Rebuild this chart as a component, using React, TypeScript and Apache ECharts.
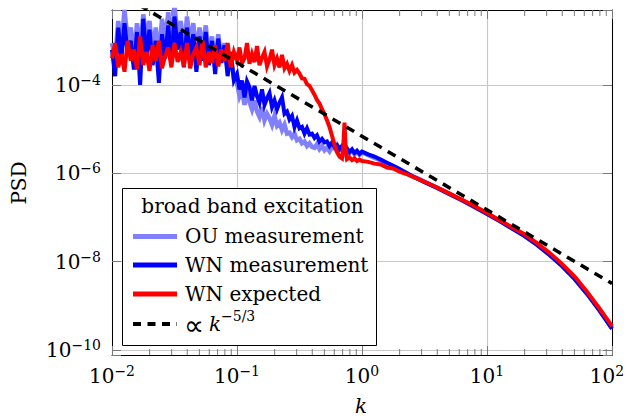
import React, { useEffect, useRef } from 'react';
import * as echarts from 'echarts';

// log10(k) sample positions shared by the three measured/expected spectra
const logK = [
  -2.000, -1.975, -1.950, -1.925, -1.900, -1.875, -1.850, -1.825, -1.800, -1.775,
  -1.750, -1.725, -1.700, -1.675, -1.650, -1.625, -1.600, -1.575, -1.550, -1.525,
  -1.500, -1.475, -1.450, -1.425, -1.400, -1.375, -1.350, -1.325, -1.300, -1.275,
  -1.250, -1.225, -1.200, -1.175, -1.150, -1.125, -1.100, -1.075, -1.050, -1.025,
  -1.00, -0.98, -0.96, -0.94, -0.92, -0.90, -0.88, -0.86, -0.84, -0.82,
  -0.80, -0.78, -0.76, -0.74, -0.72, -0.70, -0.68, -0.66, -0.64, -0.62,
  -0.60, -0.58, -0.56, -0.54, -0.52, -0.50, -0.48, -0.46, -0.44, -0.42,
  -0.40, -0.38, -0.36, -0.34, -0.32, -0.30, -0.28, -0.26, -0.24, -0.22,
  -0.20, -0.18, -0.16, -0.15, -0.14, -0.13, -0.12, -0.10, -0.08, -0.06,
  -0.04, -0.02, 0.00,
  0.05, 0.10, 0.15, 0.20, 0.25, 0.30, 0.35, 0.40, 0.45, 0.50,
  0.60, 0.70, 0.80, 0.90, 1.00, 1.10, 1.20, 1.30, 1.40, 1.50,
  1.60, 1.70, 1.80, 1.90, 2.00,
];

// log10(PSD), OU measurement
const logPsdOU = [
  -3.05, -3.45, -2.55, -3.10, -2.30, -3.00, -2.70, -3.35, -2.60, -3.25,
  -2.40, -2.95, -2.55, -3.30, -2.70, -3.40, -2.50, -3.05, -2.35, -3.15,
  -2.20, -2.95, -2.55, -3.25, -2.45, -3.10, -2.60, -3.30, -2.70, -3.20,
  -2.65, -3.35, -2.90, -3.50, -2.85, -3.45, -3.05, -3.65, -3.35, -3.85,
  -3.95, -4.25, -4.10, -4.45, -4.20, -4.38, -4.55, -4.35, -4.60, -4.72,
  -4.50, -4.80, -4.65, -4.75, -4.90, -4.70, -4.92, -4.85, -5.02, -4.90,
  -5.10, -5.08, -5.18, -5.10, -5.25, -5.22, -5.32, -5.28, -5.38, -5.32,
  -5.40, -5.42, -5.34, -5.45, -5.38, -5.48, -5.42, -5.50, -5.40, -5.44,
  -5.36, -5.47, -5.40, -5.50, -5.42, -5.52, -5.44, -5.54, -5.47, -5.57,
  -5.50, -5.58, -5.52,
  -5.59, -5.65, -5.71, -5.78, -5.84, -5.91, -5.99, -6.06, -6.12, -6.19,
  -6.32, -6.46, -6.61, -6.76, -6.91, -7.07, -7.24, -7.41, -7.61, -7.84,
  -8.09, -8.38, -8.72, -9.10, -9.50,
];

// log10(PSD), WN measurement
const logPsdWNMeas = [
  -3.20, -3.80, -2.70, -3.40, -2.60, -3.30, -3.00, -3.65, -2.80, -4.00,
  -2.50, -3.35, -2.75, -3.55, -3.00, -3.95, -2.85, -3.40, -2.65, -3.50,
  -2.45, -3.20, -2.80, -3.60, -2.70, -3.35, -2.85, -3.70, -2.90, -3.45,
  -2.80, -3.55, -3.00, -3.75, -2.95, -3.50, -3.10, -3.80, -3.25, -3.90,
  -3.75, -4.10, -3.90, -4.28, -3.92, -4.05, -4.35, -4.02, -4.25, -4.40,
  -4.10, -4.45, -4.30, -4.18, -4.50, -4.35, -4.55, -4.40, -4.28, -4.65,
  -4.60, -4.78, -4.70, -4.95, -4.80, -4.98, -4.95, -5.10, -4.98, -5.12,
  -5.10, -5.20, -5.14, -5.28, -5.22, -5.30, -5.28, -5.38, -5.30, -5.40,
  -5.36, -5.45, -5.38, -5.46, -5.42, -5.50, -5.44, -5.52, -5.46, -5.54,
  -5.49, -5.56, -5.51,
  -5.57, -5.62, -5.69, -5.76, -5.83, -5.90, -5.98, -6.06, -6.13, -6.20,
  -6.33, -6.47, -6.61, -6.76, -6.92, -7.08, -7.25, -7.42, -7.62, -7.85,
  -8.10, -8.39, -8.73, -9.11, -9.52,
];

// log10(PSD), WN expected
const logPsdWNExp = [
  -3.40, -3.05, -3.60, -3.30, -3.70, -3.00, -3.45, -3.20, -3.65, -2.90,
  -3.55, -3.25, -3.68, -3.10, -3.45, -3.00, -3.62, -3.35, -3.15, -3.60,
  -3.05, -3.48, -3.25, -3.58, -3.05, -3.62, -3.30, -3.15, -3.55, -3.00,
  -3.60, -3.25, -3.50, -3.10, -3.58, -3.20, -3.45, -3.05, -3.60, -3.25,
  -3.45, -3.15, -3.50, -3.40, -3.05, -3.52, -3.30, -3.48, -3.12, -3.55,
  -3.38, -3.25, -3.58, -3.42, -3.20, -3.55, -3.40, -3.60, -3.32, -3.62,
  -3.52, -3.68, -3.55, -3.72, -3.66, -3.74, -3.85, -3.86, -3.98, -4.02,
  -4.12, -4.22, -4.34, -4.42, -4.55, -4.66, -4.80, -4.95, -5.15, -5.35,
  -5.52, -5.62, -5.66, -5.40, -4.85, -5.45, -5.68, -5.64, -5.70, -5.66,
  -5.72, -5.69, -5.72,
  -5.74, -5.78, -5.80, -5.87, -5.89, -5.96, -6.01, -6.07, -6.13, -6.19,
  -6.32, -6.46, -6.60, -6.74, -6.90, -7.06, -7.22, -7.38, -7.58, -7.80,
  -8.05, -8.33, -8.68, -9.06, -9.46,
];

// reference slope line  ∝ k^(-5/3)
const slopeK = [0.01, 100];
const slopePsd = [1.49e-2, 3.21e-9];

// minor tick positions on the k axis
const minorTickK = [
  0.02, 0.03, 0.04, 0.05, 0.06, 0.07, 0.08, 0.09,
  0.2, 0.3, 0.4, 0.5, 0.6, 0.7, 0.8, 0.9,
  2, 3, 4, 5, 6, 7, 8, 9,
  20, 30, 40, 50, 60, 70, 80, 90,
];

const X_MIN = 0.01;
const X_MAX = 100;
const Y_MIN = 7.7e-11;
const Y_MAX = 4.99e-3;

const FONT = '"DejaVu Serif", serif';

const toPairs = (ys: number[]) => logK.map((lk, i) => [Math.pow(10, lk), Math.pow(10, ys[i])]);

const labelRich = {
  b: { fontFamily: FONT, fontSize: 20, color: '#000', lineHeight: 24 },
  s: { fontFamily: FONT, fontSize: 14, color: '#000', lineHeight: 12, verticalAlign: 'top' },
  p: { width: 10 },
};

const powFormatter = (v: number) => {
  const e = Math.log10(v);
  const r = Math.round(e);
  if (Math.abs(e - r) > 0.01) return '';
  return `{b|10}{s|${r < 0 ? '\u2212' : ''}${Math.abs(r)}}`;
};

const xFormatter = (v: number) => {
  const s = powFormatter(v);
  if (s && Math.abs(v - X_MAX) < 1e-6 * X_MAX) return s + '{p|}';
  return s;
};

export default function App() {
  const ref = useRef<HTMLDivElement>(null);

  useEffect(() => {
    if (!ref.current) return;
    const chart = echarts.init(ref.current, null, { renderer: 'svg' });

    const tickStyle = { color: '#7a7a7a', width: 1 };
    const axisLineStyle = { color: '#000', width: 1 };

    const option: any = {
      animation: false,
      textStyle: { fontFamily: FONT },
      grid: { left: 112, top: 10, right: 15, bottom: 64, containLabel: false, outerBoundsMode: 'none' },
      xAxis: [
        {
          type: 'log', logBase: 10, min: X_MIN, max: X_MAX, position: 'bottom',
          axisLine: { show: true, onZero: false, lineStyle: axisLineStyle },
          axisTick: { show: true, inside: true, length: 9, lineStyle: tickStyle },
          axisLabel: { show: true, margin: 9, formatter: xFormatter, rich: labelRich },
          splitLine: { show: true, lineStyle: { color: '#c8c8c8', width: 1.2 } },
          minorTick: { show: false }, minorSplitLine: { show: false },
        },
        {
          type: 'log', logBase: 10, min: X_MIN, max: X_MAX, position: 'top',
          axisLine: { show: true, onZero: false, lineStyle: axisLineStyle },
          axisTick: { show: true, inside: true, length: 9, lineStyle: tickStyle },
          axisLabel: { show: false },
          splitLine: { show: false },
        },
      ],
      yAxis: [
        {
          type: 'log', logBase: 100, min: Y_MIN, max: Y_MAX, position: 'left',
          axisLine: { show: true, onZero: false, lineStyle: axisLineStyle },
          axisTick: { show: true, inside: true, length: 9, lineStyle: tickStyle },
          axisLabel: { show: true, margin: 11, formatter: powFormatter, rich: labelRich },
          splitLine: { show: true, lineStyle: { color: '#c8c8c8', width: 1.2 } },
        },
        {
          type: 'log', logBase: 100, min: Y_MIN, max: Y_MAX, position: 'right',
          axisLine: { show: true, onZero: false, lineStyle: axisLineStyle },
          axisTick: { show: true, inside: true, length: 9, lineStyle: tickStyle },
          axisLabel: { show: false },
          splitLine: { show: false },
        },
      ],
      series: [
        {
          type: 'custom', name: 'minor ticks', silent: true, z: 1, clip: false,
          data: minorTickK.map((k) => [k, Y_MIN]),
          encode: { x: 0, y: 1 },
          renderItem: (_params: any, api: any) => {
            const k = api.value(0);
            const b = api.coord([k, Y_MIN]);
            const t = api.coord([k, Y_MAX]);
            return {
              type: 'group',
              children: [
                { type: 'line', shape: { x1: b[0], y1: b[1], x2: b[0], y2: b[1] - 6 }, style: { stroke: '#7a7a7a', lineWidth: 1 } },
                { type: 'line', shape: { x1: t[0], y1: t[1], x2: t[0], y2: t[1] + 6 }, style: { stroke: '#7a7a7a', lineWidth: 1 } },
              ],
            };
          },
        },
        {
          type: 'line', name: 'OU measurement', data: toPairs(logPsdOU), symbol: 'none', z: 2,
          lineStyle: { color: '#8080ff', width: 4.5, join: 'miter' },
        },
        {
          type: 'line', name: 'WN measurement', data: toPairs(logPsdWNMeas), symbol: 'none', z: 3,
          lineStyle: { color: '#0000ff', width: 4, join: 'miter' },
        },
        {
          type: 'line', name: 'WN expected', data: toPairs(logPsdWNExp), symbol: 'none', z: 4,
          lineStyle: { color: '#ff0000', width: 4, join: 'miter' },
        },
        {
          type: 'line', name: '\u221d k^(-5/3)', data: slopeK.map((k, i) => [k, slopePsd[i]]), symbol: 'none', z: 5,
          lineStyle: { color: '#000', width: 3.5, type: [9, 7], cap: 'butt' },
        },
      ],
      graphic: {
        elements: [
          { type: 'text', x: 18.5, y: 183, rotation: Math.PI / 2, z: 100,
            style: { text: 'PSD', fontFamily: FONT, fontSize: 20, fill: '#000', align: 'center', verticalAlign: 'middle' } },
          { type: 'text', x: 361, y: 406, z: 100,
            style: { text: 'k', fontFamily: FONT, fontStyle: 'italic', fontSize: 20, fill: '#000', align: 'center', verticalAlign: 'middle' } },
          { type: 'rect', z: 100, shape: { x: 122.5, y: 188.5, width: 254, height: 157 },
            style: { fill: '#fff', stroke: '#000', lineWidth: 1 } },
          { type: 'text', x: 252.5, y: 206, z: 101,
            style: { text: 'broad band excitation', fontFamily: FONT, fontSize: 20, fill: '#000', align: 'center', verticalAlign: 'middle' } },
          { type: 'line', z: 101, shape: { x1: 133, y1: 236.5, x2: 177, y2: 236.5 }, style: { stroke: '#8080ff', lineWidth: 5 } },
          { type: 'text', x: 185, y: 236, z: 101,
            style: { text: 'OU measurement', fontFamily: FONT, fontSize: 20, fill: '#000', align: 'left', verticalAlign: 'middle' } },
          { type: 'line', z: 101, shape: { x1: 133, y1: 265, x2: 177, y2: 265 }, style: { stroke: '#0000ff', lineWidth: 5 } },
          { type: 'text', x: 185, y: 265, z: 101,
            style: { text: 'WN measurement', fontFamily: FONT, fontSize: 20, fill: '#000', align: 'left', verticalAlign: 'middle' } },
          { type: 'line', z: 101, shape: { x1: 133, y1: 294, x2: 177, y2: 294 }, style: { stroke: '#ff0000', lineWidth: 5 } },
          { type: 'text', x: 185, y: 294, z: 101,
            style: { text: 'WN expected', fontFamily: FONT, fontSize: 20, fill: '#000', align: 'left', verticalAlign: 'middle' } },
          { type: 'line', z: 101, shape: { x1: 133, y1: 324, x2: 177, y2: 324 }, style: { stroke: '#000', lineWidth: 4, lineDash: [8, 6.5] } },
          { type: 'text', x: 184, y: 325, z: 101,
            style: { text: '\u221d', fontFamily: '"DejaVu Sans", sans-serif', fontSize: 28, fill: '#000', align: 'left', verticalAlign: 'middle' } },
          { type: 'text', x: 209, y: 324, z: 101,
            style: { text: 'k', fontFamily: FONT, fontStyle: 'italic', fontSize: 20, fill: '#000', align: 'left', verticalAlign: 'middle' } },
          { type: 'text', x: 221, y: 316, z: 101,
            style: { text: '\u22125/3', fontFamily: FONT, fontSize: 14, fill: '#000', align: 'left', verticalAlign: 'middle' } },
        ],
      },
    };

    chart.setOption(option);
    return () => chart.dispose();
  }, []);

  return <div ref={ref} style={{ position: 'fixed', left: 0, top: 0, width: 627, height: 419, background: '#fff' }} />;
}
